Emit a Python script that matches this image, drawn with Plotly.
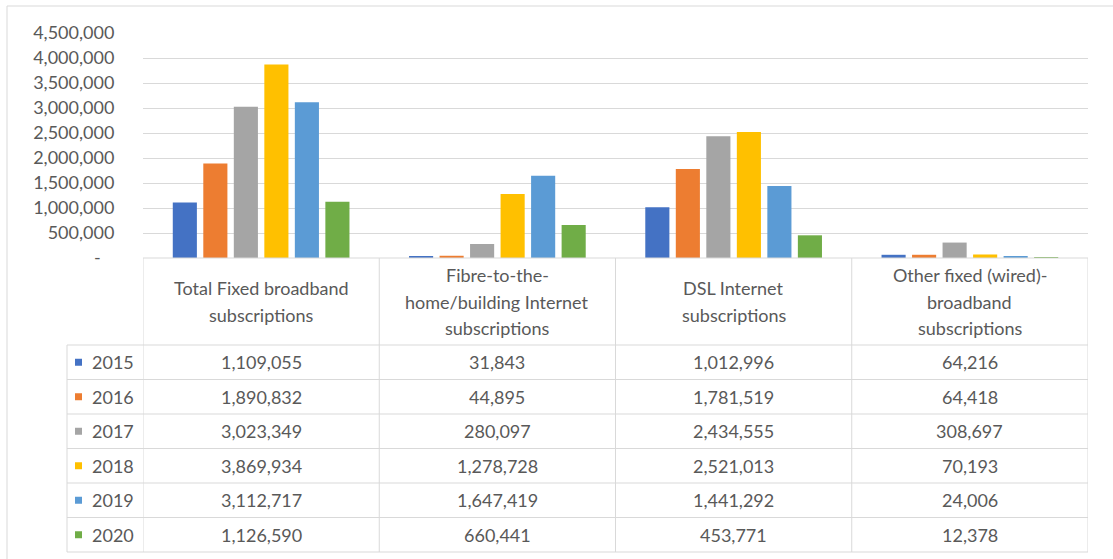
import plotly.graph_objects as go

categories = [
    "Total Fixed broadband<br>subscriptions",
    "Fibre-to-the-<br>home/building Internet<br>subscriptions",
    "DSL Internet<br>subscriptions",
    "Other fixed (wired)-<br>broadband<br>subscriptions",
]
years = ["2015", "2016", "2017", "2018", "2019", "2020"]
v2015 = [1109055, 31843, 1012996, 64216]
v2016 = [1890832, 44895, 1781519, 64418]
v2017 = [3023349, 280097, 2434555, 308697]
v2018 = [3869934, 1278728, 2521013, 70193]
v2019 = [3112717, 1647419, 1441292, 24006]
v2020 = [1126590, 660441, 453771, 12378]
series = [v2015, v2016, v2017, v2018, v2019, v2020]
colors = ["#4472C4", "#ED7D31", "#A5A5A5", "#FFC000", "#5B9BD5", "#70AD47"]
tick_vals = [0, 500000, 1000000, 1500000, 2000000, 2500000, 3000000, 3500000, 4000000, 4500000]
tick_text = ["-\u00a0\u00a0\u00a0", "500,000", "1,000,000", "1,500,000", "2,000,000", "2,500,000",
             "3,000,000", "3,500,000", "4,000,000", "4,500,000"]

W, H = 1113, 559
L, R, T, B = 143, 25, 33, 301
PW, PH = W - L - R, H - T - B
FONT = "Lato"
TXT = "#595959"
LINE = "#d9d9d9"
FS = 18


def py(p):
    return (H - B - p) / PH


def px(p):
    return (p - L) / PW


xs = list(range(len(categories)))
fig = go.Figure()
for name, vals, col in zip(years, series, colors):
    fig.add_trace(go.Bar(x=xs, y=vals, name=name, marker_color=col, marker_line_width=0))

shapes = []
annotations = []
header_top = 258
header_bot = 345
row_h = 34.5
n = len(years)
row_bounds = [header_bot + row_h * k for k in range(n + 1)]
left_col = 67

for i in range(len(categories) + 1):
    shapes.append(dict(type="line", xref="x", yref="paper", x0=i - 0.5, x1=i - 0.5,
                       y0=py(header_top), y1=py(row_bounds[-1]), line=dict(color=LINE, width=1)))
shapes.append(dict(type="line", xref="paper", yref="paper", x0=px(left_col), x1=px(left_col),
                   y0=py(header_bot), y1=py(row_bounds[-1]), line=dict(color=LINE, width=1)))
shapes.append(dict(type="line", xref="x", yref="paper", x0=-0.5, x1=len(categories) - 0.5,
                   y0=py(header_top), y1=py(header_top), line=dict(color=LINE, width=1)))
for b in row_bounds:
    shapes.append(dict(type="line", xref="paper", yref="paper", x0=px(left_col), x1=1,
                       y0=py(b), y1=py(b), line=dict(color=LINE, width=1)))
shapes.append(dict(type="line", xref="paper", yref="paper", x0=px(7), x1=px(1113),
                   y0=py(6), y1=py(6), line=dict(color=LINE, width=1)))
shapes.append(dict(type="line", xref="paper", yref="paper", x0=px(7), x1=px(7),
                   y0=py(6), y1=py(559), line=dict(color=LINE, width=1)))

# header labels, one annotation per line for Excel-like line spacing
line_gap = 26.5
hc = (header_top + header_bot) / 2
for i, c in enumerate(categories):
    lines = c.split("<br>")
    for j, ln in enumerate(lines):
        ly = hc + (j - (len(lines) - 1) / 2) * line_gap
        annotations.append(dict(x=i, y=py(ly), xref="x", yref="paper",
                                text=ln, showarrow=False, font=dict(family=FONT, size=FS, color=TXT),
                                xanchor="center", yanchor="middle", align="center"))
for k, (name, vals, col) in enumerate(zip(years, series, colors)):
    cy = (row_bounds[k] + row_bounds[k + 1]) / 2
    shapes.append(dict(type="rect", xref="paper", yref="paper", x0=px(75), x1=px(82),
                       y0=py(cy - 3.5), y1=py(cy + 3.5), fillcolor=col, line=dict(width=0)))
    annotations.append(dict(x=px(90), y=py(cy), xref="paper", yref="paper", text=name,
                            showarrow=False, font=dict(family=FONT, size=FS, color=TXT),
                            xanchor="left", yanchor="middle"))
    for i, v in enumerate(vals):
        annotations.append(dict(x=i, y=py(cy), xref="x", yref="paper", text=f"{v:,}",
                                showarrow=False, font=dict(family=FONT, size=FS, color=TXT),
                                xanchor="center", yanchor="middle"))

fig.update_layout(
    width=W, height=H,
    margin=dict(l=L, r=R, t=T, b=B),
    paper_bgcolor="white", plot_bgcolor="white",
    barmode="group", bargap=0.225, bargroupgap=0.21,
    showlegend=False,
    shapes=shapes, annotations=annotations,
    xaxis=dict(range=[-0.5, len(categories) - 0.5], showticklabels=False, showgrid=False,
               zeroline=False, showline=False, fixedrange=True),
    yaxis=dict(range=[0, 4500000], tickvals=tick_vals, ticktext=tick_text,
               showgrid=True, gridcolor=LINE, gridwidth=1, zeroline=False, showline=False,
               ticks="outside", ticklen=24, tickcolor="rgba(0,0,0,0)",
               tickfont=dict(family=FONT, size=FS, color=TXT), fixedrange=True),
)
fig.write_html("out.html", config={"displayModeBar": False})
